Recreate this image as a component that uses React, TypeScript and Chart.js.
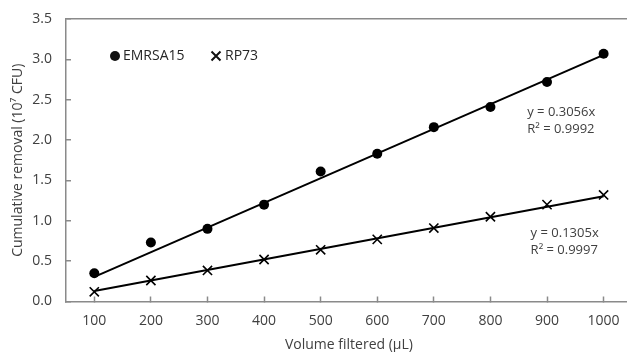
import React, { useEffect, useRef } from "react";
import { Chart, registerables } from "chart.js";

Chart.register(...registerables);

const volumes = [100, 200, 300, 400, 500, 600, 700, 800, 900, 1000];
const emrsa15 = [0.35, 0.73, 0.9, 1.2, 1.61, 1.83, 2.16, 2.41, 2.72, 3.07];
const rp73 = [0.12, 0.26, 0.385, 0.52, 0.64, 0.77, 0.91, 1.05, 1.2, 1.32];
const trendX = [100, 1000];
const trendEmrsa = [0.3056, 3.056];
const trendRp = [0.1305, 1.305];
const xTicks = [100, 200, 300, 400, 500, 600, 700, 800, 900, 1000];
const legendLabels = ["EMRSA15", "RP73"];
const eqEmrsa = ["y = 0.3056x", "R\u00B2 = 0.9992"];
const eqRp = ["y = 0.1305x", "R\u00B2 = 0.9997"];

const FONT = "'Open Sans', 'Noto Sans', sans-serif";
const TEXT = "#404040";
const AXIS = "#8a8a8a";

const overlayPlugin = {
  id: "overlay",
  afterDatasetsDraw(chart: any) {
    const { ctx, chartArea, scales } = chart;
    const xs = scales.x;
    const ys = scales.y;
    ctx.save();
    // legend
    const ly = chartArea.top + 37;
    const lx1 = chartArea.left + 49;
    ctx.fillStyle = "#111";
    ctx.beginPath();
    ctx.arc(lx1, ly, 5, 0, Math.PI * 2);
    ctx.fill();
    ctx.font = `14px ${FONT}`;
    ctx.textBaseline = "middle";
    ctx.textAlign = "left";
    ctx.fillStyle = "#262626";
    ctx.fillText(legendLabels[0], lx1 + 8, ly);
    const lx2 = chartArea.left + 150;
    ctx.strokeStyle = "#111";
    ctx.lineWidth = 2;
    ctx.beginPath();
    ctx.moveTo(lx2 - 4.5, ly - 4.5);
    ctx.lineTo(lx2 + 4.5, ly + 4.5);
    ctx.moveTo(lx2 + 4.5, ly - 4.5);
    ctx.lineTo(lx2 - 4.5, ly + 4.5);
    ctx.stroke();
    ctx.fillText(legendLabels[1], lx2 + 9, ly);
    // equations
    ctx.font = `13px ${FONT}`;
    ctx.fillStyle = TEXT;
    ctx.fillText(eqEmrsa[0], xs.getPixelForValue(865), ys.getPixelForValue(2.35));
    ctx.fillText(eqEmrsa[1], xs.getPixelForValue(865), ys.getPixelForValue(2.13));
    ctx.fillText(eqRp[0], xs.getPixelForValue(871), ys.getPixelForValue(0.85));
    ctx.fillText(eqRp[1], xs.getPixelForValue(871), ys.getPixelForValue(0.64));
    ctx.restore();
  },
};

export default function App() {
  const ref = useRef<HTMLCanvasElement>(null);
  useEffect(() => {
    if (!ref.current) return;
    const chart = new Chart(ref.current, {
      type: "scatter",
      data: {
        datasets: [
          {
            label: "EMRSA15 trend",
            type: "line",
            data: trendX.map((x, i) => ({ x, y: trendEmrsa[i] })),
            borderColor: "#000",
            borderWidth: 2,
            pointRadius: 0,
            fill: false,
          },
          {
            label: "RP73 trend",
            type: "line",
            data: trendX.map((x, i) => ({ x, y: trendRp[i] })),
            borderColor: "#000",
            borderWidth: 2,
            pointRadius: 0,
            fill: false,
          },
          {
            label: legendLabels[0],
            data: volumes.map((x, i) => ({ x, y: emrsa15[i] })),
            pointStyle: "circle",
            pointRadius: 5,
            backgroundColor: "#000",
            borderColor: "#000",
            borderWidth: 0,
            showLine: false,
          },
          {
            label: legendLabels[1],
            data: volumes.map((x, i) => ({ x, y: rp73[i] })),
            pointStyle: "crossRot",
            pointRadius: 6.5,
            backgroundColor: "#000",
            borderColor: "#000",
            borderWidth: 1.6,
            showLine: false,
          },
        ],
      },
      options: {
        animation: false,
        responsive: false,
        layout: { padding: { top: 19, right: 7, left: 0, bottom: 0 } },
        plugins: {
          legend: { display: false },
          tooltip: { enabled: false },
        },
        scales: {
          x: {
            type: "linear",
            min: 50,
            max: 1050,
            afterBuildTicks: (scale: any) => {
              scale.ticks = xTicks.map((v) => ({ value: v }));
            },
            afterFit: (scale: any) => {
              scale.height = 50.5;
              scale.paddingLeft = 0;
              scale.paddingRight = 0;
            },
            grid: {
              color: "rgba(0,0,0,0)",
              tickColor: AXIS,
              tickLength: -5,
              tickWidth: 1.5,
            },
            border: { color: AXIS, width: 1.5 },
            ticks: {
              color: TEXT,
              font: { family: FONT, size: 14 },
              padding: 16,
              maxRotation: 0,
              callback: (v: any) => String(v),
            },
            title: {
              display: true,
              text: "Volume filtered (\u00B5L)",
              color: TEXT,
              font: { family: FONT, size: 14, lineHeight: 1 },
              padding: { top: 0, bottom: 0 },
            },
          },
          y: {
            min: 0,
            max: 3.5,
            afterFit: (scale: any) => {
              scale.width = 66;
              scale.paddingTop = 0;
              scale.paddingBottom = 0;
            },
            grid: {
              color: (c: any) => (c.tick && c.tick.value === 3.5 ? AXIS : "rgba(0,0,0,0)"),
              lineWidth: 1.5,
              tickColor: AXIS,
              tickLength: -5,
              tickWidth: 1.5,
            },
            border: { color: AXIS, width: 1.5 },
            ticks: {
              stepSize: 0.5,
              color: TEXT,
              font: { family: FONT, size: 14 },
              padding: 19,
              callback: (v: any) => Number(v).toFixed(1),
            },
            title: {
              display: true,
              text: "Cumulative removal (10\u2077 CFU)",
              color: TEXT,
              font: { family: FONT, size: 14, lineHeight: 1 },
              padding: { top: 11, bottom: 0 },
            },
          },
        },
      },
      plugins: [overlayPlugin],
    } as any);
    return () => chart.destroy();
  }, []);
  return (
    <div
      style={{
        position: "fixed",
        left: 0,
        top: 0,
        width: 627,
        height: 352,
        overflow: "hidden",
        background: "#fff",
      }}
    >
      <canvas ref={ref} width={640} height={352} style={{ display: "block" }} />
    </div>
  );
}
